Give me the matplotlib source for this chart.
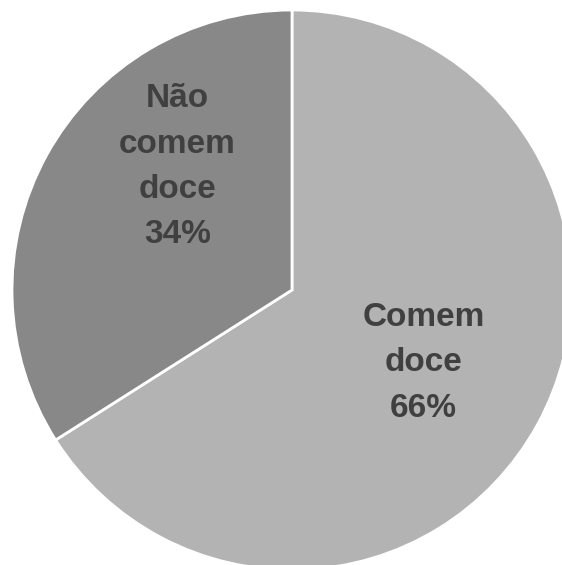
import matplotlib.pyplot as plt

labels = ["Comem\ndoce\n66%", "Não\ncomem\ndoce\n34%"]
values = [66, 34]
colors = ["#b3b3b3", "#888888"]
# label centres, in units of the pie radius
label_xy = [(0.47, -0.26), (-0.41, 0.44)]

fig = plt.figure(figsize=(5.62, 5.65), dpi=100)
W, H = 562, 565
cx, cy, r = 292, 290, 280
ax = fig.add_axes([(cx - r) / W, (H - cy - r) / H, 2 * r / W, 2 * r / H])

ax.pie(values, colors=colors, startangle=90, counterclock=False,
       wedgeprops=dict(edgecolor="white", linewidth=2), radius=1)
ax.set_aspect("auto")
ax.set_xlim(-1, 1)
ax.set_ylim(-1, 1)
ax.axis("off")

for lab, (x, y) in zip(labels, label_xy):
    ax.text(x, y, lab, ha="center", va="center", fontsize=24,
            fontweight="bold", color="#404040", family="Liberation Sans",
            linespacing=1.6)

fig.savefig("out.png", dpi=100)
